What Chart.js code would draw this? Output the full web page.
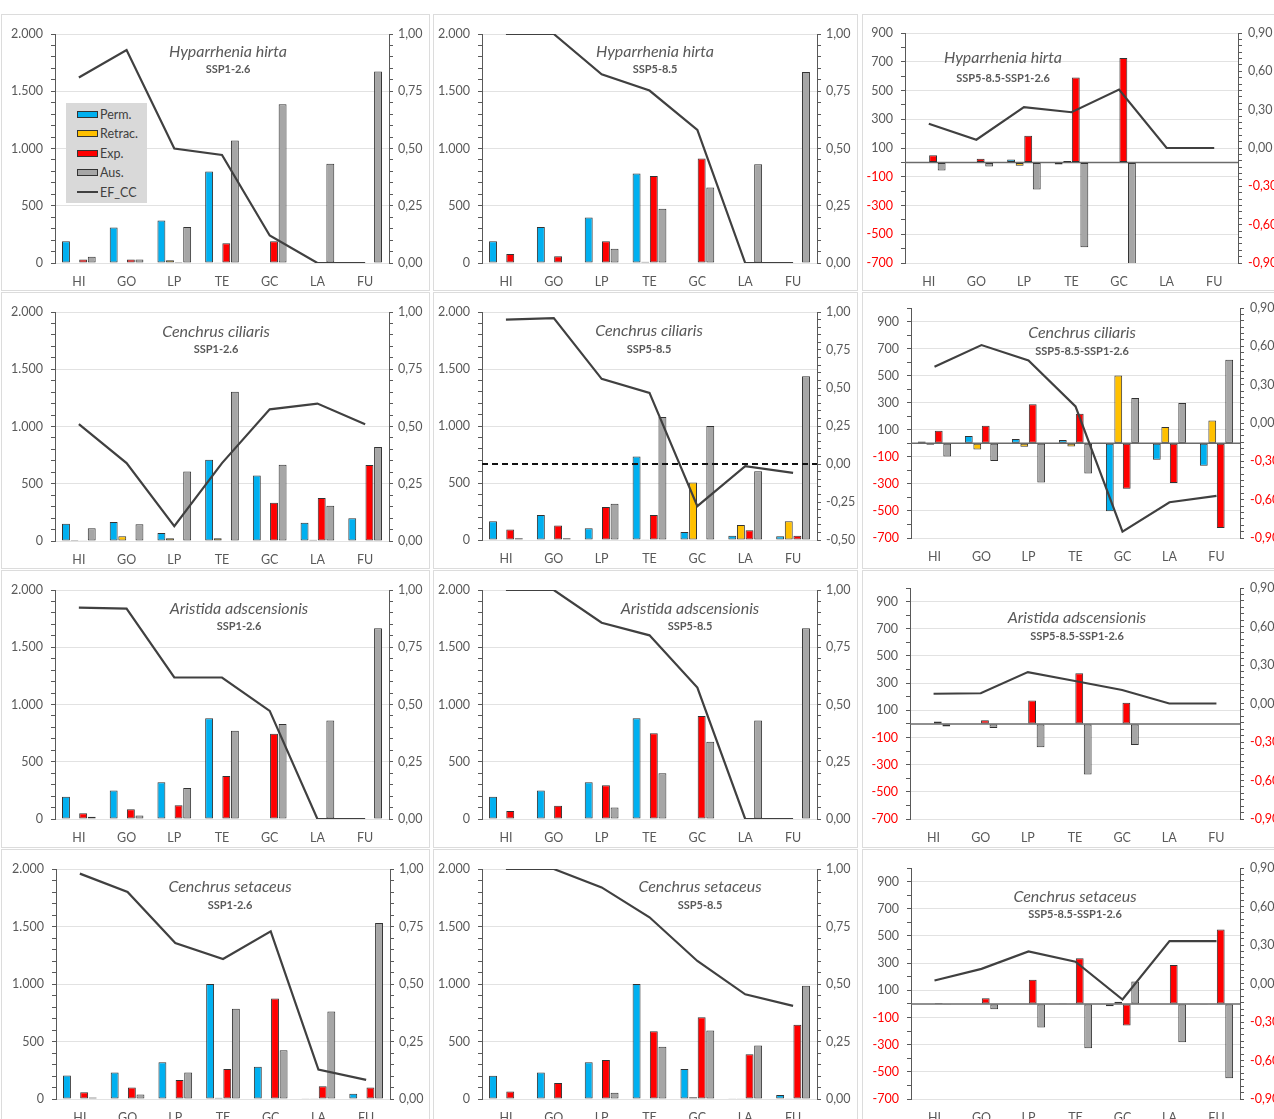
<!DOCTYPE html>
<html>
<head>
<meta charset="utf-8">
<script src="https://cdn.jsdelivr.net/npm/chart.js@4.4.1/dist/chart.umd.min.js"></script>
<style>
  html, body { margin: 0; padding: 0; background: #fff; }
  body { width: 1274px; height: 1119px; overflow: hidden; position: relative; font-family: Lato, 'Open Sans', sans-serif; }
  .panel { position: absolute; outline: 1px solid #dcdcdc; outline-offset: -1px; background: #fff; }
  .panel canvas { position: absolute; left: 0; top: 0; }
  .ttl { position: absolute; transform: translate(-50%, -50%); white-space: nowrap; color: #595959; line-height: 1; }
  .sp { font-style: italic; font-size: 16px; }
  .sc { font-weight: bold; font-size: 11px; }
  .legend { position: absolute; background: #d9d9d9; }
  .legend .it { position: absolute; left: 11px; height: 14px; display: flex; align-items: center; font-size: 12.5px; color: #404040; transform: translateY(-50%); }
  .legend .sw { width: 19px; height: 5px; border: 1px solid #333; margin-right: 2px; }
  .legend .ln { width: 21px; height: 2px; background: #404040; margin-right: 2px; }
</style>
</head>
<body>
<script>
// categories and series names
const sites = ['HI', 'GO', 'LP', 'TE', 'GC', 'LA', 'FU'];
const seriesNames = ['Perm.', 'Retrac.', 'Exp.', 'Aus.'];
const lineName = 'EF_CC';

// tick labels
const countTicks = [0, 500, 1000, 1500, 2000];
const diffTicks = [-700, -500, -300, -100, 100, 300, 500, 700, 900];
const efTicks = [0, 0.25, 0.5, 0.75, 1];
const efTicksWide = [-0.5, -0.25, 0, 0.25, 0.5, 0.75, 1];
const efDiffTicks = [-0.9, -0.6, -0.3, 0, 0.3, 0.6, 0.9];

// Hyparrhenia hirta
const hirta126Perm   = [190, 311, 372, 800, 0, 0, 0];
const hirta126Retrac = [0, 0, 25, 3, 0, 0, 0];
const hirta126Exp    = [30, 30, 8, 172, 190, 0, 0];
const hirta126Aus    = [55, 30, 314, 1070, 1387, 866, 1672];
const hirta126Ef     = [0.81, 0.93, 0.50, 0.472, 0.12, 0, 0];

const hirta585Perm   = [189, 314, 398, 782, 0, 0, 0];
const hirta585Retrac = [0, 0, 0, 12, 0, 0, 0];
const hirta585Exp    = [78, 58, 189, 759, 913, 0, 0];
const hirta585Aus    = [0, 0, 125, 474, 660, 863, 1669];
const hirta585Ef     = [1.0, 1.0, 0.824, 0.753, 0.581, 0, 0];

const hirtaDiffPerm   = [0, 0, 20, -14, 0, 0, 0];
const hirtaDiffRetrac = [0, 0, -23, 9, 0, 0, 0];
const hirtaDiffExp    = [50, 25, 186, 591, 726, 0, 0];
const hirtaDiffAus    = [-56, -28, -188, -591, -727, 0, 0];
const hirtaDiffEf     = [0.19, 0.065, 0.32, 0.28, 0.457, 0, 0];

// Cenchrus ciliaris
const ciliaris126Perm   = [150, 166, 70, 709, 573, 159, 198];
const ciliaris126Retrac = [9, 42, 25, 25, 3, 11, 0];
const ciliaris126Exp    = [3, 0, 0, 0, 333, 375, 664];
const ciliaris126Aus    = [112, 146, 607, 1303, 667, 307, 820];
const ciliaris126Ef     = [0.51, 0.34, 0.065, 0.34, 0.575, 0.60, 0.51];

const ciliaris585Perm   = [164, 219, 102, 733, 70, 38, 32];
const ciliaris585Retrac = [0, 0, 0, 6, 505, 131, 164];
const ciliaris585Exp    = [93, 128, 289, 219, 0, 85, 38];
const ciliaris585Aus    = [15, 15, 318, 1080, 1001, 604, 1437];
const ciliaris585Ef     = [0.95, 0.96, 0.56, 0.468, -0.277, -0.014, -0.058];

const ciliarisDiffPerm   = [14, 53, 32, 24, -503, -121, -166];
const ciliarisDiffRetrac = [-10, -45, -25, -23, 502, 120, 169];
const ciliarisDiffExp    = [93, 130, 289, 219, -336, -293, -626];
const ciliarisDiffAus    = [-97, -131, -289, -223, 334, 297, 617];
const ciliarisDiffEf     = [0.44, 0.61, 0.49, 0.13, -0.85, -0.62, -0.57];

// Aristida adscensionis
const aristida126Perm   = [195, 250, 320, 880, 0, 0, 0];
const aristida126Retrac = [0, 0, 0, 0, 0, 0, 0];
const aristida126Exp    = [50, 85, 120, 375, 745, 0, 0];
const aristida126Aus    = [20, 30, 270, 770, 830, 860, 1665];
const aristida126Ef     = [0.923, 0.919, 0.618, 0.618, 0.472, 0, 0];

const aristida585Perm   = [195, 250, 320, 880, 0, 0, 0];
const aristida585Retrac = [0, 0, 0, 0, 0, 0, 0];
const aristida585Exp    = [70, 115, 295, 750, 900, 0, 0];
const aristida585Aus    = [0, 0, 100, 400, 675, 860, 1665];
const aristida585Ef     = [1.0, 1.0, 0.857, 0.802, 0.574, 0, 0];

const aristidaDiffPerm   = [0, 0, 0, 0, 0, 0, 0];
const aristidaDiffRetrac = [0, 0, 0, 0, 0, 0, 0];
const aristidaDiffExp    = [17, 27, 172, 373, 155, 0, 0];
const aristidaDiffAus    = [-20, -30, -172, -372, -155, 0, 0];
const aristidaDiffEf     = [0.076, 0.08, 0.245, 0.175, 0.105, 0, 0];

// Cenchrus setaceus
const setaceus126Perm   = [205, 230, 320, 1000, 280, 3, 45];
const setaceus126Retrac = [0, 0, 0, 10, 0, 3, 0];
const setaceus126Exp    = [58, 100, 165, 260, 875, 110, 100];
const setaceus126Aus    = [12, 40, 230, 785, 425, 760, 1530];
const setaceus126Ef     = [0.98, 0.90, 0.678, 0.609, 0.729, 0.128, 0.083];

const setaceus585Perm   = [203, 230, 320, 1000, 260, 3, 35];
const setaceus585Retrac = [0, 0, 0, 0, 15, 3, 3];
const setaceus585Exp    = [65, 140, 340, 590, 710, 390, 645];
const setaceus585Aus    = [0, 0, 55, 455, 595, 465, 985];
const setaceus585Ef     = [1.0, 1.0, 0.92, 0.79, 0.60, 0.455, 0.405];

const setaceusDiffPerm   = [0, 0, 0, 5, -17, 0, -3];
const setaceusDiffRetrac = [0, 0, 0, -5, 15, 3, 3];
const setaceusDiffExp    = [7, 42, 177, 336, -160, 287, 547];
const setaceusDiffAus    = [-7, -39, -174, -326, 164, -282, -547];
const setaceusDiffEf     = [0.023, 0.114, 0.25, 0.17, -0.125, 0.33, 0.33];

const barColors = ['#00B0F0', '#FFC000', '#FF0000', '#A6A6A6'];
const lineColor = '#404040';
const axisGrey = '#595959';

Chart.defaults.font.family = "Lato, 'Open Sans', sans-serif";
Chart.defaults.color = axisGrey;

// panel boxes on the page
const cols = [{ x: 1, w: 429 }, { x: 433, w: 425 }, { x: 862, w: 440 }];
const rows = [{ y: 14, h: 277 }, { y: 292, h: 277 }, { y: 570, h: 278 }, { y: 849, h: 290 }];

const panels = [
  { row: 0, col: 0, name: 'Hyparrhenia hirta', scen: 'SSP1-2.6', kind: 'abs', legend: true,
    bars: [hirta126Perm, hirta126Retrac, hirta126Exp, hirta126Aus], ef: hirta126Ef,
    area: [55, 389, 34, 263], title: [228, 51, 68] },
  { row: 0, col: 1, name: 'Hyparrhenia hirta', scen: 'SSP5-8.5', kind: 'abs',
    bars: [hirta585Perm, hirta585Retrac, hirta585Exp, hirta585Aus], ef: hirta585Ef,
    area: [482, 817, 34, 263], title: [655, 51, 68] },
  { row: 0, col: 2, name: 'Hyparrhenia hirta', scen: 'SSP5-8.5-SSP1-2.6', kind: 'diff', leftMax: 900,
    bars: [hirtaDiffPerm, hirtaDiffRetrac, hirtaDiffExp, hirtaDiffAus], ef: hirtaDiffEf,
    area: [905, 1238, 33, 263], title: [1003, 57, 77] },

  { row: 1, col: 0, name: 'Cenchrus ciliaris', scen: 'SSP1-2.6', kind: 'abs',
    bars: [ciliaris126Perm, ciliaris126Retrac, ciliaris126Exp, ciliaris126Aus], ef: ciliaris126Ef,
    area: [55, 389, 312, 541], title: [216, 331, 348] },
  { row: 1, col: 1, name: 'Cenchrus ciliaris', scen: 'SSP5-8.5', kind: 'wide',
    bars: [ciliaris585Perm, ciliaris585Retrac, ciliaris585Exp, ciliaris585Aus], ef: ciliaris585Ef,
    area: [482, 817, 312, 540], title: [649, 330, 348] },
  { row: 1, col: 2, name: 'Cenchrus ciliaris', scen: 'SSP5-8.5-SSP1-2.6', kind: 'diff', leftMax: 1000,
    bars: [ciliarisDiffPerm, ciliarisDiffRetrac, ciliarisDiffExp, ciliarisDiffAus], ef: ciliarisDiffEf,
    area: [911, 1240, 308, 538], title: [1082, 332, 350] },

  { row: 2, col: 0, name: 'Aristida adscensionis', scen: 'SSP1-2.6', kind: 'abs',
    bars: [aristida126Perm, aristida126Retrac, aristida126Exp, aristida126Aus], ef: aristida126Ef,
    area: [55, 389, 590, 819], title: [239, 608, 625] },
  { row: 2, col: 1, name: 'Aristida adscensionis', scen: 'SSP5-8.5', kind: 'abs',
    bars: [aristida585Perm, aristida585Retrac, aristida585Exp, aristida585Aus], ef: aristida585Ef,
    area: [482, 817, 590, 819], title: [690, 608, 625] },
  { row: 2, col: 2, name: 'Aristida adscensionis', scen: 'SSP5-8.5-SSP1-2.6', kind: 'diff', leftMax: 1000,
    bars: [aristidaDiffPerm, aristidaDiffRetrac, aristidaDiffExp, aristidaDiffAus], ef: aristidaDiffEf,
    area: [910, 1240, 588, 819], title: [1077, 617, 635] },

  { row: 3, col: 0, name: 'Cenchrus setaceus', scen: 'SSP1-2.6', kind: 'abs',
    bars: [setaceus126Perm, setaceus126Retrac, setaceus126Exp, setaceus126Aus], ef: setaceus126Ef,
    area: [56, 390, 869, 1099], title: [230, 886, 904] },
  { row: 3, col: 1, name: 'Cenchrus setaceus', scen: 'SSP5-8.5', kind: 'abs',
    bars: [setaceus585Perm, setaceus585Retrac, setaceus585Exp, setaceus585Aus], ef: setaceus585Ef,
    area: [482, 817, 869, 1099], title: [700, 886, 904] },
  { row: 3, col: 2, name: 'Cenchrus setaceus', scen: 'SSP5-8.5-SSP1-2.6', kind: 'diff', leftMax: 1000,
    bars: [setaceusDiffPerm, setaceusDiffRetrac, setaceusDiffExp, setaceusDiffAus], ef: setaceusDiffEf,
    area: [911, 1240, 868, 1099], title: [1075, 896, 913] },
];

function fmtCount(v) {
  const s = String(Math.abs(Math.round(v))).replace(/\B(?=(\d{3})+(?!\d))/g, '.');
  return (v < 0 ? '-' : '') + s;
}
function fmtEF(v) {
  const r = Math.round(v * 100) / 100;
  return (r < 0 ? '-' : '') + Math.abs(r).toFixed(2).replace('.', ',');
}
function stepList(min, max, step) {
  const out = [];
  const n = Math.round((max - min) / step);
  for (let i = 0; i <= n; i++) out.push(Math.round((min + i * step) * 1000) / 1000);
  return out;
}
const isMajor = (list, v) => list.some(m => Math.abs(m - v) < 1e-6);

function valueAxis(o) {
  return {
    type: 'linear', position: o.position, min: o.min, max: o.max,
    afterBuildTicks: s => { s.ticks = stepList(o.min, o.max, o.minor).map(v => ({ value: v })); },
    afterFit: s => { s.width = o.width; },
    ticks: {
      autoSkip: false, padding: o.pad, font: { size: 12.5 },
      color: c => (o.redNeg && c.tick && c.tick.value < -1e-9) ? '#FF0000' : axisGrey,
      callback: v => isMajor(o.major, v) ? o.fmt(v) : '',
    },
    grid: {
      drawOnChartArea: o.grid,
      color: c => (c.tick && isMajor(o.major, c.tick.value)) ? '#e2e2e2' : 'rgba(0,0,0,0)',
      tickColor: axisGrey, tickLength: 4, lineWidth: 1,
    },
    border: { display: true, color: axisGrey, width: 1 },
  };
}

// reference lines (zero axis in difference panels, dashed zero in wide panel)
const refLines = {
  id: 'refLines',
  beforeDatasetsDraw(chart, args, opts) { this.paint(chart, opts, 'before'); },
  afterDatasetsDraw(chart, args, opts) { this.paint(chart, opts, 'after'); },
  paint(chart, opts, layer) {
    const { ctx, chartArea: a } = chart;
    (opts.lines || []).filter(l => l.layer === layer).forEach(l => {
      const y = chart.scales[l.axis].getPixelForValue(l.value);
      ctx.save();
      ctx.strokeStyle = l.color;
      ctx.lineWidth = l.width;
      ctx.setLineDash(l.dash || []);
      ctx.beginPath();
      ctx.moveTo(a.left, y);
      ctx.lineTo(a.right, y);
      ctx.stroke();
      ctx.restore();
    });
  },
};

function addText(cls, text, x, y) {
  const d = document.createElement('div');
  d.className = 'ttl ' + cls;
  d.textContent = text;
  d.style.left = x + 'px';
  d.style.top = y + 'px';
  document.body.appendChild(d);
}

function addLegend(x, y) {
  const box = document.createElement('div');
  box.className = 'legend';
  Object.assign(box.style, { left: x + 'px', top: y + 'px', width: '81px', height: '100px' });
  const ys = [11, 30.5, 50, 69.5, 89];
  seriesNames.concat([lineName]).forEach((n, i) => {
    const it = document.createElement('div');
    it.className = 'it';
    it.style.top = ys[i] + 'px';
    const sw = document.createElement('span');
    if (i < seriesNames.length) { sw.className = 'sw'; sw.style.background = barColors[i]; }
    else sw.className = 'ln';
    it.appendChild(sw);
    it.appendChild(document.createTextNode(n));
    box.appendChild(it);
  });
  document.body.appendChild(box);
}

panels.forEach(p => {
  const box = { x: cols[p.col].x, y: rows[p.row].y, w: cols[p.col].w, h: rows[p.row].h };
  const [l, r, t, b] = p.area;
  const div = document.createElement('div');
  div.className = 'panel';
  Object.assign(div.style, { left: box.x + 'px', top: box.y + 'px', width: box.w + 'px', height: box.h + 'px' });
  const canvas = document.createElement('canvas');
  canvas.width = box.w;
  canvas.height = box.h;
  div.appendChild(canvas);
  document.body.appendChild(div);

  const yW = l - box.x;
  const y1W = box.x + box.w - r;
  const xH = box.y + box.h - b;
  const diff = p.kind === 'diff';

  const left = diff
    ? valueAxis({ position: 'left', min: -700, max: p.leftMax, minor: 100, major: diffTicks, fmt: fmtCount, width: yW, pad: 8, grid: true, redNeg: true })
    : valueAxis({ position: 'left', min: 0, max: 2000, minor: 100, major: countTicks, fmt: fmtCount, width: yW, pad: 8, grid: true, redNeg: false });
  let right;
  if (diff) right = valueAxis({ position: 'right', min: -0.9, max: 0.9, minor: 0.05, major: efDiffTicks, fmt: fmtEF, width: y1W, pad: 6, grid: false, redNeg: true });
  else if (p.kind === 'wide') right = valueAxis({ position: 'right', min: -0.5, max: 1, minor: 0.05, major: efTicksWide, fmt: fmtEF, width: y1W, pad: 5, grid: false, redNeg: false });
  else right = valueAxis({ position: 'right', min: 0, max: 1, minor: 0.05, major: efTicks, fmt: fmtEF, width: y1W, pad: 5, grid: false, redNeg: false });

  const lines = [];
  if (diff) lines.push({ axis: 'y', value: 0, color: '#6b6b6b', width: 1.5, layer: 'before' });
  if (p.kind === 'wide') lines.push({ axis: 'y1', value: 0, color: '#111', width: 2, dash: [6, 4], layer: 'after' });

  const datasets = [{
    type: 'line', label: lineName, data: p.ef, yAxisID: 'y1',
    borderColor: lineColor, borderWidth: 2.2, pointRadius: 0, tension: 0, order: 0,
  }].concat(p.bars.map((d, i) => ({
    type: 'bar', label: seriesNames[i], data: d, yAxisID: 'y',
    backgroundColor: barColors[i], borderColor: '#333', borderWidth: 1, borderSkipped: false,
    categoryPercentage: 0.72, barPercentage: 0.92, order: 1,
  })));

  new Chart(canvas, {
    type: 'bar',
    data: { labels: sites, datasets },
    plugins: [refLines],
    options: {
      responsive: false,
      maintainAspectRatio: false,
      animation: false,
      devicePixelRatio: 1,
      layout: { padding: { top: t - box.y, left: 0, right: 0, bottom: 0 } },
      plugins: {
        legend: { display: false },
        tooltip: { enabled: false },
        refLines: { lines },
      },
      scales: {
        x: {
          type: 'category', offset: true,
          grid: { display: false, drawTicks: false },
          border: { display: false },
          ticks: { font: { size: 12.5 }, color: axisGrey, padding: 11, maxRotation: 0, autoSkip: false },
          afterFit: s => { s.height = xH; },
        },
        y: left,
        y1: right,
      },
    },
  });

  addText('sp', p.name, p.title[0], p.title[1]);
  addText('sc', p.scen, p.title[0], p.title[2]);
  if (p.legend) addLegend(66, 103);
});
</script>
</body>
</html>
